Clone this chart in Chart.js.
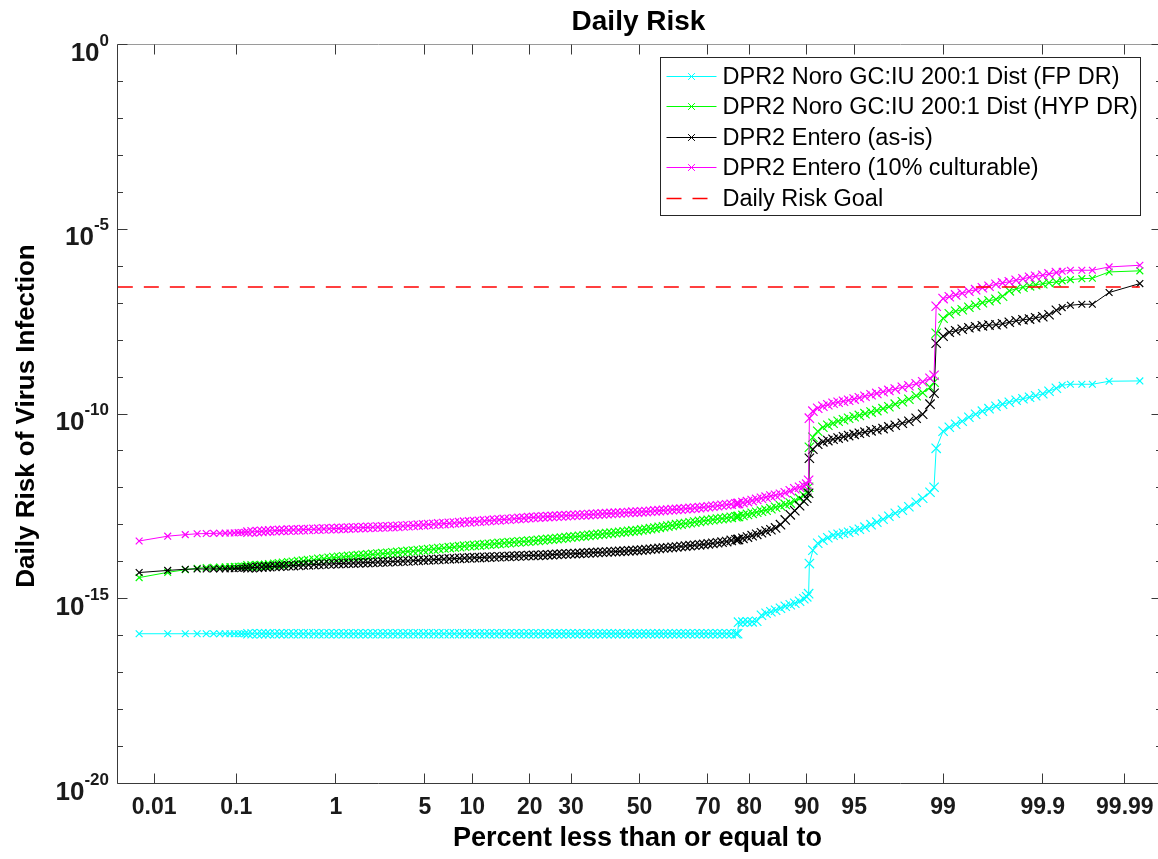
<!DOCTYPE html>
<html>
<head>
<meta charset="utf-8">
<title>Daily Risk</title>
<script src="https://cdn.jsdelivr.net/npm/chart.js@4.4.1/dist/chart.umd.min.js"></script>
<style>
  html, body { margin: 0; padding: 0; background: #ffffff; overflow: hidden; }
  #wrap { position: relative; width: 1170px; height: 859px; }
</style>
</head>
<body>
<div id="wrap"><canvas id="riskChart"></canvas></div>
<script>
// Cumulative percent (plotting position) of each sorted Monte Carlo sample
const cumPercent = [
  0.0063, 0.015, 0.025, 0.035, 0.045, 0.055, 0.065, 0.075, 0.085, 0.095,
  0.105, 0.115, 0.125, 0.135, 0.15, 0.17, 0.19, 0.21, 0.23, 0.26,
  0.29, 0.32, 0.36, 0.40, 0.45, 0.50, 0.56, 0.63, 0.70, 0.78,
  0.87, 0.96, 1.06, 1.17, 1.29, 1.42, 1.56, 1.71, 1.87, 2.05,
  2.25, 2.46, 2.69, 2.94, 3.2, 3.5, 3.8, 4.15, 4.5, 4.9,
  5.3, 5.75, 6.2, 6.7, 7.25, 7.8, 8.4, 9.0, 9.65, 10.3,
  11.0, 11.75, 12.5, 13.3, 14.1, 15.0, 15.9, 16.85, 17.8, 18.8,
  19.8, 20.85, 21.9, 23.0, 24.1, 25.2, 26.35, 27.5, 28.7, 29.9,
  31.1, 32.3, 33.6, 34.9, 36.2, 37.5, 38.8, 40.1, 41.4, 42.7,
  44.0, 45.35, 46.7, 48.0, 49.35, 50.7, 52.0, 53.35, 54.7, 56.0,
  57.3, 58.6, 59.9, 61.2, 62.5, 63.8, 65.1, 66.4, 67.7, 68.9,
  70.1, 71.3, 72.5, 73.65, 74.8, 75.9, 77.0, 77.4, 77.6, 78.6,
  79.6, 80.6, 81.55, 82.5, 83.4, 84.3, 85.15, 86.0, 86.8, 87.6,
  88.3, 89.0, 89.6, 90.0, 90.25,
  90.35, 90.8, 91.4, 92.0, 92.55, 93.1, 93.6, 94.1, 94.55, 95.0,
  95.4, 95.8, 96.2, 96.55, 96.9, 97.2, 97.5, 97.8, 98.05, 98.3,
  98.5, 98.7, 98.8,
  98.85, 99.0, 99.12, 99.23, 99.33, 99.42, 99.5, 99.57, 99.63, 99.685,
  99.73, 99.77, 99.805, 99.835, 99.86, 99.88, 99.9, 99.915, 99.93, 99.94,
  99.952, 99.965, 99.974, 99.984, 99.9937
];

// DPR2 Noro GC:IU 200:1 Dist (FP DR)
const noroFP = [
  1.13e-16, 1.13e-16, 1.13e-16, 1.13e-16, 1.13e-16, 1.13e-16, 1.13e-16, 1.13e-16, 1.13e-16, 1.13e-16,
  1.13e-16, 1.13e-16, 1.13e-16, 1.13e-16, 1.13e-16, 1.13e-16, 1.13e-16, 1.13e-16, 1.13e-16, 1.13e-16,
  1.13e-16, 1.13e-16, 1.13e-16, 1.13e-16, 1.13e-16, 1.13e-16, 1.13e-16, 1.13e-16, 1.13e-16, 1.13e-16,
  1.13e-16, 1.13e-16, 1.13e-16, 1.13e-16, 1.13e-16, 1.13e-16, 1.13e-16, 1.13e-16, 1.13e-16, 1.13e-16,
  1.13e-16, 1.13e-16, 1.13e-16, 1.13e-16, 1.13e-16, 1.13e-16, 1.13e-16, 1.13e-16, 1.13e-16, 1.13e-16,
  1.13e-16, 1.13e-16, 1.13e-16, 1.13e-16, 1.13e-16, 1.13e-16, 1.13e-16, 1.13e-16, 1.13e-16, 1.13e-16,
  1.13e-16, 1.13e-16, 1.13e-16, 1.13e-16, 1.13e-16, 1.13e-16, 1.13e-16, 1.13e-16, 1.13e-16, 1.13e-16,
  1.13e-16, 1.13e-16, 1.13e-16, 1.13e-16, 1.13e-16, 1.13e-16, 1.13e-16, 1.13e-16, 1.13e-16, 1.13e-16,
  1.13e-16, 1.13e-16, 1.13e-16, 1.13e-16, 1.13e-16, 1.13e-16, 1.13e-16, 1.13e-16, 1.13e-16, 1.13e-16,
  1.13e-16, 1.13e-16, 1.13e-16, 1.13e-16, 1.13e-16, 1.13e-16, 1.13e-16, 1.13e-16, 1.13e-16, 1.13e-16,
  1.13e-16, 1.13e-16, 1.13e-16, 1.13e-16, 1.13e-16, 1.13e-16, 1.13e-16, 1.13e-16, 1.13e-16, 1.13e-16,
  1.13e-16, 1.13e-16, 1.13e-16, 1.13e-16, 1.13e-16, 1.13e-16, 1.13e-16, 1.13e-16, 2.32e-16, 2.32e-16,
  2.38e-16, 2.38e-16, 2.46e-16, 3.58e-16, 4.05e-16, 4.45e-16, 4.89e-16, 5.54e-16, 6.26e-16, 6.88e-16,
  7.56e-16, 8.57e-16, 1.0e-15, 1.13e-15, 1.37e-15,
  8.96e-15, 2.05e-14, 3.18e-14, 3.83e-14, 4.48e-14, 5.23e-14, 5.55e-14, 5.92e-14, 6.3e-14, 6.92e-14,
  7.59e-14, 8.63e-14, 1.01e-13, 1.18e-13, 1.42e-13, 1.71e-13, 2.06e-13, 2.48e-13, 3.09e-13, 4.09e-13,
  5.25e-13, 7.63e-13, 1.04e-12,
  1.18e-11, 3.41e-11, 4.38e-11, 5.27e-11, 6.36e-11, 8.16e-11, 9.84e-11, 1.19e-10, 1.39e-10, 1.62e-10,
  1.84e-10, 2.08e-10, 2.36e-10, 2.59e-10, 2.84e-10, 3.12e-10, 3.53e-10, 4.13e-10, 4.98e-10, 6.0e-10,
  6.38e-10, 6.38e-10, 6.38e-10, 7.7e-10, 7.86e-10
];

// DPR2 Noro GC:IU 200:1 Dist (HYP DR)
const noroHYP = [
  3.74e-15, 5.18e-15, 6.09e-15, 6.69e-15, 6.99e-15, 7.12e-15, 7.21e-15, 7.3e-15, 7.39e-15, 7.49e-15,
  7.58e-15, 7.63e-15, 7.68e-15, 7.73e-15, 7.78e-15, 7.88e-15, 7.93e-15, 8.03e-15, 8.22e-15, 8.54e-15,
  8.8e-15, 9.07e-15, 9.42e-15, 9.72e-15, 1.01e-14, 1.04e-14, 1.08e-14, 1.12e-14, 1.17e-14, 1.2e-14,
  1.25e-14, 1.3e-14, 1.33e-14, 1.36e-14, 1.4e-14, 1.43e-14, 1.47e-14, 1.5e-14, 1.54e-14, 1.58e-14,
  1.62e-14, 1.66e-14, 1.7e-14, 1.75e-14, 1.79e-14, 1.85e-14, 1.91e-14, 1.95e-14, 2.02e-14, 2.08e-14,
  2.15e-14, 2.21e-14, 2.28e-14, 2.36e-14, 2.42e-14, 2.49e-14, 2.57e-14, 2.65e-14, 2.72e-14, 2.77e-14,
  2.84e-14, 2.91e-14, 2.98e-14, 3.06e-14, 3.14e-14, 3.22e-14, 3.3e-14, 3.38e-14, 3.47e-14, 3.55e-14,
  3.62e-14, 3.71e-14, 3.81e-14, 3.9e-14, 4.03e-14, 4.13e-14, 4.26e-14, 4.36e-14, 4.5e-14, 4.64e-14,
  4.76e-14, 4.91e-14, 5.04e-14, 5.2e-14, 5.33e-14, 5.5e-14, 5.64e-14, 5.82e-14, 5.96e-14, 6.11e-14,
  6.3e-14, 6.47e-14, 6.67e-14, 6.84e-14, 7.01e-14, 7.29e-14, 7.57e-14, 7.9e-14, 8.2e-14, 8.57e-14,
  8.88e-14, 9.28e-14, 9.63e-14, 1.01e-13, 1.05e-13, 1.09e-13, 1.14e-13, 1.19e-13, 1.24e-13, 1.29e-13,
  1.33e-13, 1.38e-13, 1.44e-13, 1.48e-13, 1.54e-13, 1.6e-13, 1.66e-13, 1.68e-13, 1.69e-13, 1.8e-13,
  1.91e-13, 2.05e-13, 2.19e-13, 2.35e-13, 2.5e-13, 2.74e-13, 2.99e-13, 3.27e-13, 3.57e-13, 3.89e-13,
  4.49e-13, 5.18e-13, 6.31e-13, 7.63e-13, 1.04e-12,
  1.26e-11, 2.35e-11, 3.41e-11, 4.38e-11, 4.96e-11, 5.61e-11, 6.36e-11, 6.99e-11, 7.68e-11, 8.44e-11,
  9.14e-11, 1.02e-10, 1.13e-10, 1.24e-10, 1.39e-10, 1.57e-10, 1.84e-10, 2.15e-10, 2.51e-10, 3.12e-10,
  3.76e-10, 5.3e-10, 7.23e-10,
  1.53e-8, 3.9e-8, 5.17e-8, 6.03e-8, 6.63e-8, 7.75e-8, 8.77e-8, 1.03e-7, 1.16e-7, 1.27e-7,
  1.54e-7, 2.16e-7, 2.45e-7, 2.69e-7, 2.95e-7, 3.15e-7, 3.35e-7, 3.57e-7, 3.74e-7, 4.02e-7,
  4.33e-7, 4.6e-7, 4.71e-7, 6.99e-7, 7.5e-7
];

// DPR2 Entero (as-is)
const enteroAsIs = [
  5.12e-15, 5.84e-15, 6.29e-15, 6.4e-15, 6.4e-15, 6.45e-15, 6.45e-15, 6.45e-15, 6.48e-15, 6.48e-15,
  6.61e-15, 6.69e-15, 6.77e-15, 6.86e-15, 6.94e-15, 7.08e-15, 7.21e-15, 7.3e-15, 7.39e-15, 7.49e-15,
  7.63e-15, 7.73e-15, 7.82e-15, 7.92e-15, 8.03e-15, 8.19e-15, 8.29e-15, 8.4e-15, 8.5e-15, 8.62e-15,
  8.73e-15, 8.85e-15, 8.96e-15, 9.07e-15, 9.14e-15, 9.25e-15, 9.37e-15, 9.48e-15, 9.55e-15, 9.66e-15,
  9.79e-15, 9.91e-15, 1.0e-14, 1.02e-14, 1.03e-14, 1.04e-14, 1.05e-14, 1.07e-14, 1.09e-14, 1.11e-14,
  1.13e-14, 1.14e-14, 1.16e-14, 1.18e-14, 1.2e-14, 1.22e-14, 1.24e-14, 1.26e-14, 1.27e-14, 1.29e-14,
  1.3e-14, 1.32e-14, 1.34e-14, 1.35e-14, 1.37e-14, 1.39e-14, 1.4e-14, 1.42e-14, 1.44e-14, 1.46e-14,
  1.48e-14, 1.49e-14, 1.5e-14, 1.52e-14, 1.54e-14, 1.56e-14, 1.59e-14, 1.61e-14, 1.63e-14, 1.65e-14,
  1.67e-14, 1.69e-14, 1.71e-14, 1.74e-14, 1.77e-14, 1.79e-14, 1.81e-14, 1.84e-14, 1.87e-14, 1.89e-14,
  1.92e-14, 1.94e-14, 1.98e-14, 2.0e-14, 2.04e-14, 2.08e-14, 2.13e-14, 2.19e-14, 2.24e-14, 2.3e-14,
  2.36e-14, 2.4e-14, 2.46e-14, 2.52e-14, 2.6e-14, 2.67e-14, 2.74e-14, 2.8e-14, 2.88e-14, 2.95e-14,
  3.06e-14, 3.16e-14, 3.28e-14, 3.4e-14, 3.53e-14, 3.78e-14, 3.95e-14, 4.0e-14, 4.03e-14, 4.31e-14,
  4.67e-14, 5.1e-14, 5.54e-14, 6.11e-14, 6.79e-14, 7.37e-14, 8.24e-14, 1.01e-13, 1.36e-13, 1.87e-13,
  2.41e-13, 3.29e-13, 4.35e-13, 5.25e-13, 7.16e-13,
  6.34e-12, 1.11e-11, 1.52e-11, 1.77e-11, 1.91e-11, 2.07e-11, 2.23e-11, 2.41e-11, 2.61e-11, 2.81e-11,
  3.01e-11, 3.23e-11, 3.5e-11, 3.74e-11, 4.03e-11, 4.46e-11, 4.96e-11, 5.61e-11, 6.36e-11, 7.68e-11,
  9.84e-11, 1.84e-10, 3.64e-10,
  8.22e-9, 1.27e-8, 1.63e-8, 1.79e-8, 1.97e-8, 2.16e-8, 2.3e-8, 2.44e-8, 2.55e-8, 2.6e-8,
  2.77e-8, 3.04e-8, 3.34e-8, 3.55e-8, 3.71e-8, 4.03e-8, 4.29e-8, 4.86e-8, 6.42e-8, 7.59e-8,
  8.77e-8, 9.33e-8, 9.33e-8, 1.94e-7, 3.39e-7
];

// DPR2 Entero (10% culturable)
const entero10 = [
  3.66e-14, 4.94e-14, 5.43e-14, 5.74e-14, 5.82e-14, 5.89e-14, 5.93e-14, 5.96e-14, 6.0e-14, 6.04e-14,
  6.15e-14, 6.23e-14, 6.31e-14, 6.35e-14, 6.47e-14, 6.59e-14, 6.68e-14, 6.79e-14, 6.9e-14, 6.97e-14,
  7.05e-14, 7.1e-14, 7.19e-14, 7.28e-14, 7.3e-14, 7.41e-14, 7.5e-14, 7.6e-14, 7.65e-14, 7.75e-14,
  7.84e-14, 7.9e-14, 8.0e-14, 8.05e-14, 8.19e-14, 8.3e-14, 8.35e-14, 8.45e-14, 8.55e-14, 8.6e-14,
  8.71e-14, 8.8e-14, 8.87e-14, 8.97e-14, 9.1e-14, 9.3e-14, 9.45e-14, 9.6e-14, 9.8e-14, 1.0e-13,
  1.02e-13, 1.04e-13, 1.06e-13, 1.08e-13, 1.1e-13, 1.12e-13, 1.15e-13, 1.18e-13, 1.2e-13, 1.23e-13,
  1.25e-13, 1.28e-13, 1.31e-13, 1.34e-13, 1.37e-13, 1.4e-13, 1.42e-13, 1.46e-13, 1.49e-13, 1.52e-13,
  1.56e-13, 1.59e-13, 1.62e-13, 1.65e-13, 1.67e-13, 1.69e-13, 1.72e-13, 1.74e-13, 1.77e-13, 1.79e-13,
  1.82e-13, 1.85e-13, 1.87e-13, 1.9e-13, 1.93e-13, 1.95e-13, 1.98e-13, 2.01e-13, 2.04e-13, 2.07e-13,
  2.09e-13, 2.13e-13, 2.16e-13, 2.2e-13, 2.22e-13, 2.25e-13, 2.29e-13, 2.33e-13, 2.38e-13, 2.42e-13,
  2.47e-13, 2.52e-13, 2.57e-13, 2.61e-13, 2.66e-13, 2.73e-13, 2.78e-13, 2.85e-13, 2.91e-13, 2.99e-13,
  3.09e-13, 3.19e-13, 3.29e-13, 3.39e-13, 3.5e-13, 3.61e-13, 3.72e-13, 3.77e-13, 3.8e-13, 4.01e-13,
  4.25e-13, 4.55e-13, 4.87e-13, 5.25e-13, 5.62e-13, 6.02e-13, 6.33e-13, 6.73e-13, 7.39e-13, 8.37e-13,
  9.5e-13, 1.04e-12, 1.14e-12, 1.26e-12, 1.61e-12,
  7.7e-11, 1.19e-10, 1.43e-10, 1.62e-10, 1.78e-10, 1.95e-10, 2.08e-10, 2.21e-10, 2.36e-10, 2.54e-10,
  2.75e-10, 3.02e-10, 3.32e-10, 3.6e-10, 4.0e-10, 4.34e-10, 4.73e-10, 5.3e-10, 5.82e-10, 6.59e-10,
  7.46e-10, 9.28e-10, 1.12e-9,
  8.25e-8, 1.33e-7, 1.49e-7, 1.67e-7, 1.85e-7, 2.1e-7, 2.31e-7, 2.61e-7, 2.87e-7, 3.25e-7,
  3.52e-7, 3.8e-7, 4.17e-7, 4.57e-7, 5.02e-7, 5.35e-7, 5.69e-7, 6.17e-7, 6.73e-7, 7.3e-7,
  7.77e-7, 7.77e-7, 7.77e-7, 9.55e-7, 1.06e-6
];

// Daily risk goal (1e-4 per year spread over 365 days)
const goalPercent = [0.0032, 99.9937];
const goalRisk = [2.74e-7, 2.74e-7];

// Axis ticks
const xTickPercents = [0.01, 0.1, 1, 5, 10, 20, 30, 50, 70, 80, 90, 95, 99, 99.9, 99.99];
const xTickLabels = ['0.01', '0.1', '1', '5', '10', '20', '30', '50', '70', '80', '90', '95', '99', '99.9', '99.99'];
const yDecadeExponents = [-20, -19, -18, -17, -16, -15, -14, -13, -12, -11, -10, -9, -8, -7, -6, -5, -4, -3, -2, -1, 0];
const yLabelExponents = [-20, -15, -10, -5, 0];

const seriesLabels = [
  'DPR2 Noro GC:IU 200:1 Dist (FP DR)',
  'DPR2 Noro GC:IU 200:1 Dist (HYP DR)',
  'DPR2 Entero (as-is)',
  'DPR2 Entero (10% culturable)',
  'Daily Risk Goal'
];

const FONT = "'Liberation Sans', Arial, Helvetica, sans-serif";

// Inverse of the standard normal CDF (Acklam), used for the normal-probability x axis
function probit(p) {
  const a = [-3.969683028665376e+01, 2.209460984245205e+02, -2.759285104469687e+02, 1.383577518672690e+02, -3.066479806614716e+01, 2.506628277459239e+00];
  const b = [-5.447609879822406e+01, 1.615858368580409e+02, -1.556989798598866e+02, 6.680131188771972e+01, -1.328068155288572e+01];
  const c = [-7.784894002430293e-03, -3.223964580411365e-01, -2.400758277161838e+00, -2.549732539343734e+00, 4.374664141464968e+00, 2.938163982698783e+00];
  const d = [7.784695709041462e-03, 3.224671290700398e-01, 2.445134137142996e+00, 3.754408661907416e+00];
  const pl = 0.02425, ph = 1 - pl;
  let q, r;
  if (p < pl) {
    q = Math.sqrt(-2 * Math.log(p));
    return (((((c[0] * q + c[1]) * q + c[2]) * q + c[3]) * q + c[4]) * q + c[5]) /
           ((((d[0] * q + d[1]) * q + d[2]) * q + d[3]) * q + 1);
  }
  if (p > ph) {
    q = Math.sqrt(-2 * Math.log(1 - p));
    return -(((((c[0] * q + c[1]) * q + c[2]) * q + c[3]) * q + c[4]) * q + c[5]) /
            ((((d[0] * q + d[1]) * q + d[2]) * q + d[3]) * q + 1);
  }
  q = p - 0.5;
  r = q * q;
  return (((((a[0] * r + a[1]) * r + a[2]) * r + a[3]) * r + a[4]) * r + a[5]) * q /
         (((((b[0] * r + b[1]) * r + b[2]) * r + b[3]) * r + b[4]) * r + 1);
}

const toPoints = (pcts, vals) => pcts.map((p, i) => ({ x: probit(p / 100), y: vals[i] }));

// Isolated tail samples keep the plain 'x' size; the crowded middle of each
// distribution gets slightly larger crosses so the overlapping samples read as a band.
const TAIL_RADIUS = 4.8;
const BAND_RADIUS = 6.6;
function markerRadius(c) {
  const i = c.dataIndex;
  return (i < 13 || i >= cumPercent.length - 6) ? TAIL_RADIUS : BAND_RADIUS;
}

function series(label, vals, color, order) {
  return {
    label,
    data: toPoints(cumPercent, vals),
    borderColor: color,
    backgroundColor: color,
    borderWidth: 1,
    pointStyle: 'crossRot',
    pointRadius: markerRadius,
    pointHoverRadius: markerRadius,
    pointBorderWidth: 1.2,
    pointBorderColor: color,
    tension: 0,
    fill: false,
    order
  };
}

function drawCross(ctx, cx, cy, r) {
  const o = r * Math.SQRT1_2;
  ctx.beginPath();
  ctx.moveTo(cx - o, cy - o); ctx.lineTo(cx + o, cy + o);
  ctx.moveTo(cx - o, cy + o); ctx.lineTo(cx + o, cy - o);
  ctx.stroke();
}

const snap = v => Math.round(v - 0.5) + 0.5;

// Axes frame, inward ticks, tick labels, titles and legend in the MATLAB figure style
const matlabFrame = {
  id: 'matlabFrame',
  afterDraw(chart) {
    const { ctx, chartArea: a, scales } = chart;
    const xs = scales.x, ys = scales.y;
    ctx.save();
    ctx.lineWidth = 1;
    ctx.setLineDash([]);

    // box
    ctx.strokeStyle = '#9a9a9a';
    ctx.beginPath();
    ctx.moveTo(a.left, a.top); ctx.lineTo(a.right, a.top); ctx.lineTo(a.right, a.bottom);
    ctx.stroke();
    ctx.strokeStyle = '#3a3a3a';
    ctx.beginPath();
    ctx.moveTo(a.left, a.top); ctx.lineTo(a.left, a.bottom); ctx.lineTo(a.right, a.bottom);
    ctx.stroke();

    // x ticks (bottom and top, pointing inward)
    ctx.strokeStyle = '#3a3a3a';
    ctx.beginPath();
    xTickPercents.forEach(p => {
      const px = snap(xs.getPixelForValue(probit(p / 100)));
      ctx.moveTo(px, a.bottom); ctx.lineTo(px, a.bottom - 10);
      ctx.moveTo(px, a.top); ctx.lineTo(px, a.top + 10);
    });
    ctx.stroke();

    // y ticks (left and right), longer at labelled decades
    ctx.beginPath();
    yDecadeExponents.forEach(e => {
      const py = snap(ys.getPixelForValue(Math.pow(10, e)));
      const len = yLabelExponents.includes(e) ? 10 : 5.5;
      ctx.moveTo(a.left, py); ctx.lineTo(a.left + len, py);
      ctx.moveTo(a.right, py); ctx.lineTo(a.right - len, py);
    });
    ctx.stroke();

    // x tick labels
    ctx.fillStyle = '#1a1a1a';
    ctx.font = `bold 23px ${FONT}`;
    ctx.textAlign = 'center';
    ctx.textBaseline = 'alphabetic';
    xTickPercents.forEach((p, i) => {
      const px = xs.getPixelForValue(probit(p / 100));
      ctx.fillText(xTickLabels[i], px, 814);
    });

    // y tick labels 10^n
    ctx.textAlign = 'right';
    yLabelExponents.forEach(e => {
      const py = ys.getPixelForValue(Math.pow(10, e));
      const sup = String(e);
      ctx.font = `bold 17px ${FONT}`;
      const supW = ctx.measureText(sup).width;
      ctx.fillText(sup, 109, py + 1);
      ctx.font = `bold 26px ${FONT}`;
      ctx.fillText('10', 109 - supW, py + 16);
    });

    // title and axis labels
    const cx = (a.left + a.right) / 2;
    ctx.fillStyle = '#000000';
    ctx.textAlign = 'center';
    ctx.font = `bold 28px ${FONT}`;
    ctx.fillText('Daily Risk', cx - 1, 30);
    ctx.font = `bold 27px ${FONT}`;
    ctx.fillText('Percent less than or equal to', cx - 2, 846);
    ctx.save();
    ctx.translate(34, (a.top + a.bottom) / 2 + 2);
    ctx.rotate(-Math.PI / 2);
    ctx.font = `bold 26px ${FONT}`;
    ctx.fillText('Daily Risk of Virus Infection', 0, 0);
    ctx.restore();

    // legend
    const lg = { left: 660.5, top: 57.5, right: 1140.5, bottom: 215.5 };
    ctx.fillStyle = '#ffffff';
    ctx.fillRect(lg.left, lg.top, lg.right - lg.left, lg.bottom - lg.top);
    ctx.strokeStyle = '#262626';
    ctx.strokeRect(lg.left, lg.top, lg.right - lg.left, lg.bottom - lg.top);
    chart.data.datasets.forEach((ds, i) => {
      const rowY = Math.round(75.7 + i * 30.5) + 0.5;
      ctx.strokeStyle = ds.borderColor;
      ctx.lineWidth = ds.borderWidth;
      ctx.setLineDash(ds.borderDash || []);
      ctx.beginPath();
      ctx.moveTo(666.5, rowY); ctx.lineTo(716.5, rowY);
      ctx.stroke();
      ctx.setLineDash([]);
      ctx.lineWidth = 1;
      if (ds.pointStyle) drawCross(ctx, 691.5, rowY, TAIL_RADIUS);
      ctx.fillStyle = '#000000';
      ctx.font = `23.5px ${FONT}`;
      ctx.textAlign = 'left';
      ctx.fillText(ds.label, 722.5, rowY + 7.8);
    });
    ctx.restore();
  }
};

new Chart(document.getElementById('riskChart'), {
  type: 'line',
  data: {
    datasets: [
      series(seriesLabels[0], noroFP, '#00ffff', 4),
      series(seriesLabels[1], noroHYP, '#00ff00', 3),
      series(seriesLabels[2], enteroAsIs, '#000000', 2),
      series(seriesLabels[3], entero10, '#ff00ff', 1),
      {
        label: seriesLabels[4],
        data: toPoints(goalPercent, goalRisk),
        borderColor: '#ff0000',
        backgroundColor: '#ff0000',
        borderWidth: 1.5,
        borderDash: [15, 11],
        pointRadius: 0,
        pointHoverRadius: 0,
        fill: false,
        order: 0
      }
    ]
  },
  options: {
    responsive: true,
    maintainAspectRatio: false,
    animation: false,
    events: [],
    layout: { padding: { left: 117.5, right: 8.5, top: 44.5, bottom: 75.5 } },
    scales: {
      x: { type: 'linear', min: -4, max: 4, display: false },
      y: { type: 'logarithmic', min: 1e-20, max: 1, display: false }
    },
    plugins: {
      legend: { display: false },
      title: { display: false },
      tooltip: { enabled: false }
    }
  },
  plugins: [matlabFrame]
});
</script>
</body>
</html>
